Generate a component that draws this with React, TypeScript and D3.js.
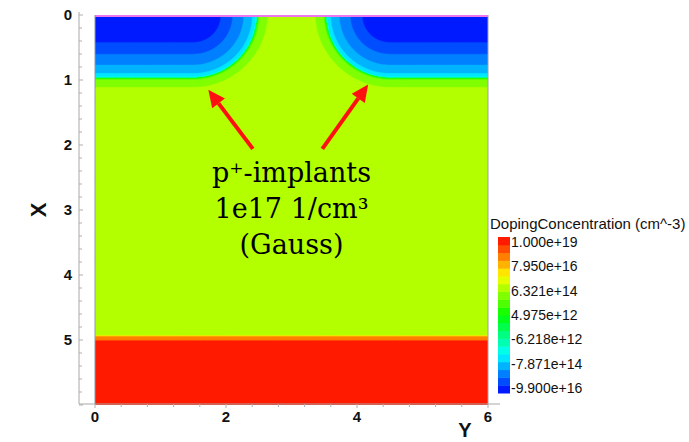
import { useMemo } from 'react';
import * as d3 from 'd3';

const W = 689;
const H = 442;

// device doping model (cm^-3), lengths in um
const bulkDoping = 1e15;
const backsideDoping = 1e19;
const backsideDepth = 5.03;
const backsideShoulder = 4e17;
const backsideShoulderDepth = 4.96;
const backsideSigma = 0.008;
const implantPeak = 1e17;
const implantSigma = 0.228;
const implantTail = 2.5e16;
const implantTailLen = 0.3;
const implantWindows = [[0, 1.5], [4.5, 6]];

// colour legend
const legendTitle = 'DopingConcentration (cm^-3)';
const legendLabels = ['1.000e+19', '7.950e+16', '6.321e+14', '4.975e+12', '-6.218e+12', '-7.871e+14', '-9.900e+16'];
const legendMax = 1e19;
const legendMin = -9.9e16;
const logOffset = 11.69;
const nColors = 20;

// axes
const lateralTicks = [0, 2, 4, 6];
const depthTicks = [0, 1, 2, 3, 4, 5];

// annotation
const noteLines = ['p⁺-implants', '1e17 1/cm³', '(Gauss)'];
const arrows = [
  { from: [2.06, 2.41], to: [1.15, 1.73] },
  { from: [2.06, 3.47], to: [1.07, 4.17] },
];

const slog = (v: number) => Math.sign(v) * Math.max(0, Math.log10(Math.abs(v)) - logOffset);
const fMin = slog(legendMin);
const fMax = slog(legendMax);

// half-gaussian step: full value beyond depth, gaussian tail above it
const step = (x: number, depth: number, s: number) => {
  const dx = x < depth ? depth - x : 0;
  return Math.exp(-(dx * dx) / (2 * s * s));
};

function netDoping(x: number, y: number) {
  let na = 0;
  implantWindows.forEach(([a, b]) => {
    const dy = y < a ? a - y : y > b ? y - b : 0;
    const d = Math.sqrt(x * x + dy * dy);
    na += implantPeak * Math.exp(-(d * d) / (2 * implantSigma * implantSigma)) + implantTail * Math.exp(-d / implantTailLen);
  });
  const nb = backsideDoping * step(x, backsideDepth, backsideSigma)
    + backsideShoulder * step(x, backsideShoulderDepth, backsideSigma);
  return bulkDoping + nb - na;
}

const bucketColor = (i: number) => d3.hsl(240 * (1 - (i + 0.5) / nColors), 1, 0.5).formatHex();

export default function App() {
  const xs = d3.scaleLinear().domain([0, 6]).range([95, 488]);
  const ys = d3.scaleLinear().domain([0, 6]).range([15, 405]);
  const axisY = 404;
  const axisX = 79;

  const bands = useMemo(() => {
    const n = 300, m = 400;
    const vals = new Float64Array(n * m);
    for (let j = 0; j < m; j++) {
      for (let i = 0; i < n; i++) {
        const y = ((i + 0.5) * 6) / n;
        const x = ((j + 0.5) * 6) / m;
        const u = (slog(netDoping(x, y)) - fMin) / (fMax - fMin);
        vals[j * n + i] = Math.max(0, Math.min(1, u));
      }
    }
    const thresholds = d3.range(nColors).map(i => i / nColors);
    const cs = d3.contours().size([n, m]).thresholds(thresholds)(Array.from(vals));
    const proj = d3.geoTransform({
      point(px: number, py: number) {
        (this as any).stream.point(xs((px * 6) / n), ys((py * 6) / m));
      },
    });
    const path = d3.geoPath(proj);
    return cs.map((c, i) => ({ d: path(c as any) || '', fill: bucketColor(i) }));
  }, []);

  const cbX = 498, cbW = 12, cbTop = 237, cbBot = 393;
  const cb = d3.scaleLinear().domain([0, nColors]).range([cbBot, cbTop]);
  const cbLab = d3.scaleLinear().domain([0, legendLabels.length - 1]).range([242, 388]);

  const axisFont = 'Liberation Sans, Arial, sans-serif';
  const depthMinor = d3.range(0, 6.001, 0.2);
  const latMinor = d3.range(0, 6.001, 0.4);

  return (
    <svg width={W} height={H} style={{ position: 'absolute', left: 0, top: 0, background: '#fff' }}>
      <defs>
        <clipPath id="plotClip">
          <rect x={xs(0)} y={ys(0)} width={xs(6) - xs(0)} height={ys(6) - ys(0)} />
        </clipPath>
      </defs>
      <g clipPath="url(#plotClip)">
        {bands.map((b, i) => (
          <path key={i} d={b.d} fill={b.fill} stroke={b.fill} strokeWidth={0.4} />
        ))}
      </g>
      {/* surface contact */}
      <line x1={xs(0)} x2={xs(6)} y1={ys(0) + 1} y2={ys(0) + 1} stroke="#ee77ee" strokeWidth={2} />
      {/* plot edges */}
      <line x1={xs(0)} x2={xs(0)} y1={ys(0)} y2={axisY} stroke="#8a9aa8" strokeWidth={1} />
      <line x1={xs(6)} x2={xs(6)} y1={ys(0)} y2={axisY} stroke="#a0a0a0" strokeWidth={1} />

      {/* depth axis (X) */}
      <line x1={axisX} x2={axisX} y1={12} y2={axisY} stroke="#a8a8a8" />
      {depthMinor.map((t, i) => (
        <line key={i} x1={axisX} x2={axisX + (i % 5 === 0 ? 4 : 3)} y1={ys(t)} y2={ys(t)} stroke="#b0b0b0" />
      ))}
      {depthTicks.map(t => (
        <text key={t} x={68} y={ys(t)} dy="0.36em" textAnchor="middle" fontFamily={axisFont}
          fontWeight="bold" fontSize={15} fill="#111">{t}</text>
      ))}
      <text transform={`translate(38,${ys(3)}) rotate(-90)`} textAnchor="middle" dy="0.36em"
        fontFamily={axisFont} fontWeight="bold" fontSize={22} fill="#111">X</text>

      {/* lateral axis (Y) */}
      <line x1={axisX} x2={500} y1={axisY} y2={axisY} stroke="#a8a8a8" />
      {latMinor.map((t, i) => (
        <line key={i} x1={xs(t)} x2={xs(t)} y1={axisY} y2={axisY + (i % 5 === 0 ? 4 : 3)} stroke="#b0b0b0" />
      ))}
      {lateralTicks.map(t => (
        <text key={t} x={xs(t)} y={417} dy="0.36em" textAnchor="middle" fontFamily={axisFont}
          fontWeight="bold" fontSize={15} fill="#111">{t}</text>
      ))}
      <text x={465} y={437} textAnchor="middle" fontFamily={axisFont}
        fontWeight="bold" fontSize={20} fill="#111">Y</text>

      {/* colour bar */}
      {d3.range(nColors).map(i => (
        <rect key={i} x={cbX} y={cb(i + 1)} width={cbW} height={cb(i) - cb(i + 1) + 0.5} fill={bucketColor(i)} />
      ))}
      <text x={490} y={229} fontFamily={axisFont} fontSize={15} fill="#111">{legendTitle}</text>
      {legendLabels.map((l, i) => (
        <text key={l} x={511} y={cbLab(i)} dy="0.36em" fontFamily={axisFont} fontSize={14} fill="#111">{l}</text>
      ))}

      {/* annotation */}
      {arrows.map((a, i) => {
        const x1 = xs(a.from[1]), y1 = ys(a.from[0]);
        const x2 = xs(a.to[1]), y2 = ys(a.to[0]);
        const ang = Math.atan2(y2 - y1, x2 - x1);
        const hl = 17, hw = 8;
        const bx = x2 - hl * Math.cos(ang), by = y2 - hl * Math.sin(ang);
        const px = -Math.sin(ang) * hw, py = Math.cos(ang) * hw;
        return (
          <g key={i}>
            <line x1={x1} y1={y1} x2={bx} y2={by} stroke="#ff1010" strokeWidth={4} />
            <polygon points={`${x2},${y2} ${bx + px},${by + py} ${bx - px},${by - py}`} fill="#ff1010" />
          </g>
        );
      })}
      {noteLines.map((l, i) => (
        <text key={i} x={xs(3)} y={182 + i * 36} textAnchor="middle" fontFamily="DejaVu Serif, serif"
          fontSize={27} fill="#000">{l}</text>
      ))}
    </svg>
  );
}
